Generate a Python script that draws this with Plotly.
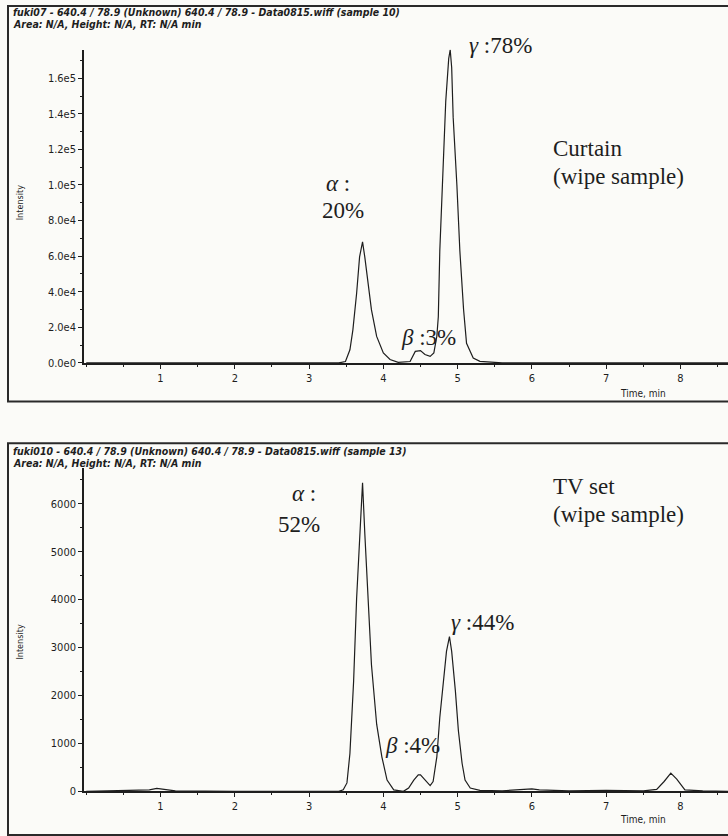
import plotly.graph_objects as go

W, H = 728, 836

# ---------------- data ----------------
top_time = [0.0, 1.0, 2.0, 3.0, 3.40, 3.49, 3.55, 3.59, 3.64, 3.68, 3.72, 3.75, 3.80, 3.84, 3.91,
            4.00, 4.09, 4.20, 4.36, 4.43, 4.50, 4.56, 4.63, 4.68, 4.72, 4.74, 4.76, 4.79,
            4.81, 4.84, 4.88, 4.90, 4.92, 4.94, 4.99, 5.03, 5.08, 5.12, 5.21, 5.30, 5.60,
            6.5, 7.5, 8.70]
top_int = [0, 0, 0, 0, 0, 800, 7400, 18600, 39000, 59600, 68000, 59600, 44700, 29800, 14900,
           5600, 1900, 300, 800, 6500, 6900, 4700, 3700, 5600, 15000, 26000, 63000, 91000,
           119000, 147000, 171000, 176000, 166000, 138000, 100000, 63000, 30000, 11000, 2800, 900, 0,
           0, 0, 0]

bot_time = [0.0, 0.5, 0.85, 0.95, 1.05, 1.2, 2.0, 3.0, 3.40, 3.46, 3.51, 3.55, 3.60, 3.64, 3.68,
            3.72, 3.75, 3.80, 3.84, 3.91, 3.98, 4.05, 4.14, 4.27, 4.34, 4.41, 4.47, 4.50, 4.56,
            4.63, 4.67, 4.72, 4.76, 4.81, 4.85, 4.89, 4.92, 4.97, 5.01, 5.06, 5.10, 5.17, 5.30,
            5.6, 5.9, 6.0, 6.1, 6.5, 7.0, 7.5, 7.68, 7.78, 7.87, 7.95, 8.06, 8.3, 8.70]
bot_int = [0, 10, 30, 60, 40, 10, 0, 0, 0, 30, 175, 790, 2300, 4020, 5390,
           6440, 5390, 3880, 2640, 1400, 720, 235, 30, 0, 70, 235, 345, 345, 235,
           120, 205, 720, 1540, 2360, 2920, 3230, 2920, 2090, 1270, 585, 235, 70, 20,
           10, 30, 50, 30, 10, 20, 10, 40, 205, 380, 255, 30, 10, 0]

x_ticks = [1, 2, 3, 4, 5, 6, 7, 8]
top_yticks = [0, 20000, 40000, 60000, 80000, 100000, 120000, 140000, 160000]
top_ytext = ["0.0e0", "2.0e4", "4.0e4", "6.0e4", "8.0e4", "1.0e5", "1.2e5", "1.4e5", "1.6e5"]
bot_yticks = [0, 1000, 2000, 3000, 4000, 5000, 6000]
bot_ytext = ["0", "1000", "2000", "3000", "4000", "5000", "6000"]

top_header = ["fuki07 - 640.4 / 78.9 (Unknown) 640.4 / 78.9 - Data0815.wiff (sample 10)",
              "Area: N/A, Height: N/A, RT: N/A min"]
bot_header = ["fuki010 - 640.4 / 78.9 (Unknown) 640.4 / 78.9 - Data0815.wiff (sample 13)",
              "Area: N/A, Height: N/A, RT: N/A min"]

# ---------------- helpers ----------------
def PX(x):
    return x / W

def PY(y):
    return 1 - y / H

NARROW = "Liberation Sans Narrow, Arial Narrow, DejaVu Sans Condensed, sans-serif"
SERIF = "Liberation Serif, Times New Roman, serif"
INK = "#1e1e1e"

fig = go.Figure()
fig.add_trace(go.Scatter(x=top_time, y=top_int, mode="lines", line=dict(color=INK, width=1.2),
                         xaxis="x", yaxis="y", showlegend=False, hoverinfo="skip"))
fig.add_trace(go.Scatter(x=bot_time, y=bot_int, mode="lines", line=dict(color=INK, width=1.2),
                         xaxis="x2", yaxis="y2", showlegend=False, hoverinfo="skip"))

x_dom = [PX(84), 1.0]
x_range = [-0.03, 8.64]

common_x = dict(range=x_range, domain=x_dom, tickvals=x_ticks, ticktext=[str(v) for v in x_ticks],
                ticks="outside", ticklen=4, tickwidth=1, tickcolor=INK,
                showline=True, linecolor=INK, linewidth=1.6, showgrid=False, zeroline=False,
                tickfont=dict(family=NARROW, size=11, color=INK),
                minor=dict(dtick=0.5, ticks="outside", ticklen=2, tickcolor=INK, showgrid=False))
common_y = dict(ticks="outside", ticklen=4, tickwidth=1, tickcolor=INK,
                showline=True, linecolor=INK, linewidth=1.6, showgrid=False, zeroline=False,
                tickfont=dict(family=NARROW, size=11, color=INK))

fig.update_layout(
    width=W, height=H, margin=dict(l=0, r=0, t=0, b=0),
    paper_bgcolor="#fbfbf8", plot_bgcolor="rgba(0,0,0,0)",
    xaxis=dict(**common_x, anchor="y"),
    yaxis=dict(**common_y, domain=[PY(366), PY(50)], range=[0, 176100], anchor="x",
               tickvals=top_yticks, ticktext=top_ytext,
               minor=dict(dtick=10000, ticks="outside", ticklen=2, tickcolor=INK, showgrid=False)),
    xaxis2=dict(**common_x, anchor="y2"),
    yaxis2=dict(**common_y, domain=[PY(798), PY(472)], range=[0, 6745], anchor="x2",
                tickvals=bot_yticks, ticktext=bot_ytext,
                minor=dict(dtick=500, ticks="outside", ticklen=2, tickcolor=INK, showgrid=False)),
)

# frames
fig.add_shape(type="rect", xref="paper", yref="paper", x0=PX(8), x1=PX(735), y0=PY(405), y1=PY(6),
              line=dict(color="#2a2a2a", width=2))
fig.add_shape(type="rect", xref="paper", yref="paper", x0=PX(8), x1=PX(735), y0=PY(842), y1=PY(447),
              line=dict(color="#2a2a2a", width=2))

ann = []

def txt(text, x, y, size, family, xanchor="left", angle=0):
    ann.append(dict(text=text, x=PX(x), y=PY(y), xref="paper", yref="paper", showarrow=False,
                    xanchor=xanchor, yanchor="middle", textangle=angle,
                    font=dict(family=family, size=size, color=INK)))

HEAD = "DejaVu Sans Condensed, Liberation Sans Narrow, sans-serif"
# headers
for i, line in enumerate(top_header):
    txt("<b><i>" + line + "</i></b>", 11, 12 + 12 * i, 10.5, HEAD)
for i, line in enumerate(bot_header):
    txt("<b><i>" + line + "</i></b>", 11, 455 + 12 * i, 10.5, HEAD)

# axis titles
txt("Intensity", 20, 205, 9, NARROW, xanchor="center", angle=-90)
txt("Intensity", 20, 648, 9, NARROW, xanchor="center", angle=-90)
txt("Time, min", 643, 397, 10, NARROW, xanchor="center")
txt("Time, min", 643, 826, 10, NARROW, xanchor="center")

# peak labels - top
txt("<i>α</i> :", 338, 185, 23, SERIF, xanchor="center")
txt("20%", 343, 212, 23, SERIF, xanchor="center")
txt("<i>γ</i> :78%", 467, 46, 23, SERIF)
txt("<i>β</i> :3%", 399, 340, 23, SERIF)
txt("Curtain", 551, 150, 23, SERIF)
txt("(wipe sample)", 551, 178, 23, SERIF)

# peak labels - bottom
txt("<i>α</i> :", 304, 498, 23, SERIF, xanchor="center")
txt("52%", 299, 529, 23, SERIF, xanchor="center")
txt("TV set", 551, 491, 23, SERIF)
txt("(wipe sample)", 551, 519, 23, SERIF)
txt("<i>γ</i> :44%", 449, 628, 23, SERIF)
txt("<i>β</i> :4%", 383, 752, 23, SERIF)

fig.update_layout(annotations=ann)

fig.write_html("out.html")
